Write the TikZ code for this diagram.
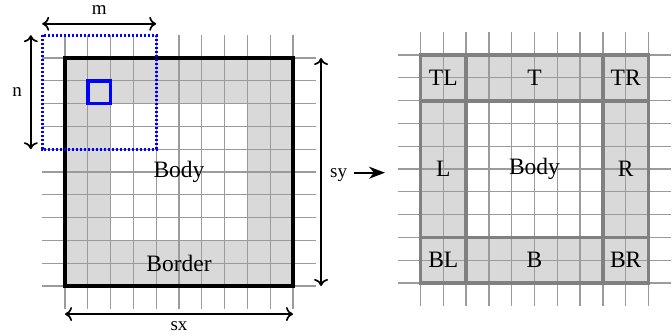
\documentclass[tikz,border=0pt]{standalone}
\usepackage{fontspec}
\setmainfont{Liberation Serif}
\usetikzlibrary{arrows.meta}
\definecolor{cellfill}{RGB}{217,217,217}
\definecolor{gridline}{RGB}{155,155,155}
\definecolor{regionline}{RGB}{128,128,128}
\begin{document}
\begin{tikzpicture}[x=1pt,y=-1pt,
  gridlines/.style={draw=gridline,line width=1.3pt},
  txt/.style={font=\fontsize{23.5}{27}\selectfont,inner sep=0pt},
  dimtxt/.style={font=\fontsize{19}{23}\selectfont,inner sep=0pt},
  cmtip/.style={Computer Modern Rightarrow[length=7pt,width=14pt,line width=1.7pt]},
  dim/.style={{Computer Modern Rightarrow[length=7pt,width=14pt,line width=1.7pt]}-{Computer Modern Rightarrow[length=7pt,width=14pt,line width=1.7pt]},line width=1.7pt},
  regionedge/.style={draw=regionline,line width=3.8pt}]
\useasboundingbox (0,0) rectangle (672,335);

% ---------- left: image with border and body ----------
\begin{scope}[shift={(65pt,-58pt)},x=22.8pt,y=-22.8pt]
  \fill[cellfill,even odd rule] (0,0) rectangle (10,10) (2,2) rectangle (8,8);
  \foreach \i in {0,...,10}{
    \draw[gridlines] (\i,-1) -- (\i,11);
    \draw[gridlines] (-1,\i) -- (11,\i);
  }
  \draw[line width=3.4pt] (0,0) rectangle (10,10);
  % sliding window and its centre cell
  \draw[blue,line width=2.6pt,dash pattern=on 2.2pt off 1.8pt] (-1,-1) rectangle (4,4);
  \draw[blue,line width=3.4pt] (1,1) rectangle (2,2);
  \node[txt] (bodyL) at (5,5) {Body};
  \node[txt] (border) at (5,9) {Border};
  % dimension arrows
  \coordinate (mA) at (-1,-1.5);
  \coordinate (mB) at (4,-1.5);
  \draw[dim] (mA) -- (mB);
  \node[dimtxt] (mlab) at (1.5,-2.1) {m};
  \coordinate (nA) at (-1.5,-1);
  \coordinate (nB) at (-1.5,4);
  \draw[dim] (nA) -- (nB);
  \node[dimtxt] (nlab) at (-2.1,1.5) {n};
  \coordinate (sxA) at (0,11.23);
  \coordinate (sxB) at (10,11.23);
  \draw[dim] (sxA) -- (sxB);
  \node[dimtxt] (sxlab) at (5,11.75) {sx};
  \coordinate (syA) at (11.23,0);
  \coordinate (syB) at (11.23,10);
  \draw[dim] (syA) -- (syB);
  \node[dimtxt,anchor=base] (sylab) at (12,5.22) {sy};
\end{scope}

% ---------- arrow between the two views ----------
\coordinate (goA) at (354,172.7);
\coordinate (goB) at (385,172.7);
\draw[-{Stealth[length=16pt,width=12pt,inset=5pt]},line width=1.6pt] (goA) -- (goB);

% ---------- right: border split into regions ----------
\begin{scope}[shift={(420.5pt,-55pt)},x=22.8pt,y=-22.8pt]
  \fill[cellfill,even odd rule] (0,0) rectangle (10,10) (2,2) rectangle (8,8);
  \foreach \i in {0,...,10}{
    \draw[gridlines] (\i,-1) -- (\i,11);
    \draw[gridlines] (-1,\i) -- (11,\i);
  }
  \draw[regionedge] (0,0) rectangle (2,2);
  \draw[regionedge] (2,0) rectangle (8,2);
  \draw[regionedge] (8,0) rectangle (10,2);
  \draw[regionedge] (0,2) rectangle (2,8);
  \draw[regionedge] (8,2) rectangle (10,8);
  \draw[regionedge] (0,8) rectangle (2,10);
  \draw[regionedge] (2,8) rectangle (8,10);
  \draw[regionedge] (8,8) rectangle (10,10);
  \node[txt] (tl) at (1,1) {TL};
  \node[txt] (t) at (5,1) {T};
  \node[txt] (tr) at (9,1) {TR};
  \node[txt] (l) at (1,5) {L};
  \node[txt] (bodyR) at (5,5) {Body};
  \node[txt] (r) at (9,5) {R};
  \node[txt] (bl) at (1,9) {BL};
  \node[txt] (b) at (5,9) {B};
  \node[txt] (br) at (9,9) {BR};
\end{scope}
\end{tikzpicture}
\end{document}
